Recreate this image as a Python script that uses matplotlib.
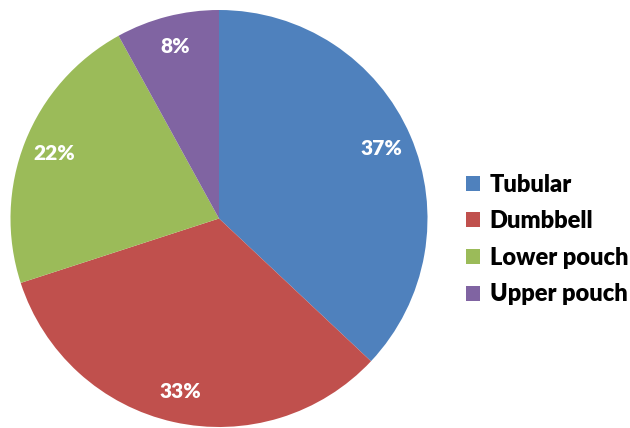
import matplotlib
matplotlib.use("Agg")
import matplotlib.pyplot as plt

categories = ["Tubular", "Dumbbell", "Lower pouch", "Upper pouch"]
shares = [37, 33, 22, 8]
colors = ["#4F81BD", "#C0504D", "#9BBB59", "#8064A2"]

W, H = 630, 428
fig = plt.figure(figsize=(W / 100, H / 100), dpi=100)

cx, cy, r = 219, 218.5, 208.5
ax = fig.add_axes([(cx - r) / W, (H - cy - r) / H, 2 * r / W, 2 * r / H])

wedges, texts, autotexts = ax.pie(
    shares,
    colors=colors,
    startangle=90,
    counterclock=False,
    autopct=lambda p: f"{p:.0f}%",
    pctdistance=0.85,
    radius=1.0,
    wedgeprops=dict(linewidth=0),
    textprops=dict(color="white", fontsize=15, fontweight="heavy", family="Lato"),
)
ax.set_xlim(-1, 1)
ax.set_ylim(-1, 1)
ax.set_aspect("equal")
ax.axis("off")

leg = fig.legend(
    wedges,
    categories,
    loc="center left",
    bbox_to_anchor=(466 / W, (H - 239.5) / H),
    frameon=False,
    prop=dict(family="Lato", weight="heavy", size=17),
    handlelength=0.6,
    handleheight=0.6,
    handletextpad=0.4,
    labelspacing=0.62,
    borderaxespad=0,
    borderpad=0,
)

fig.savefig("out.png", dpi=100)
